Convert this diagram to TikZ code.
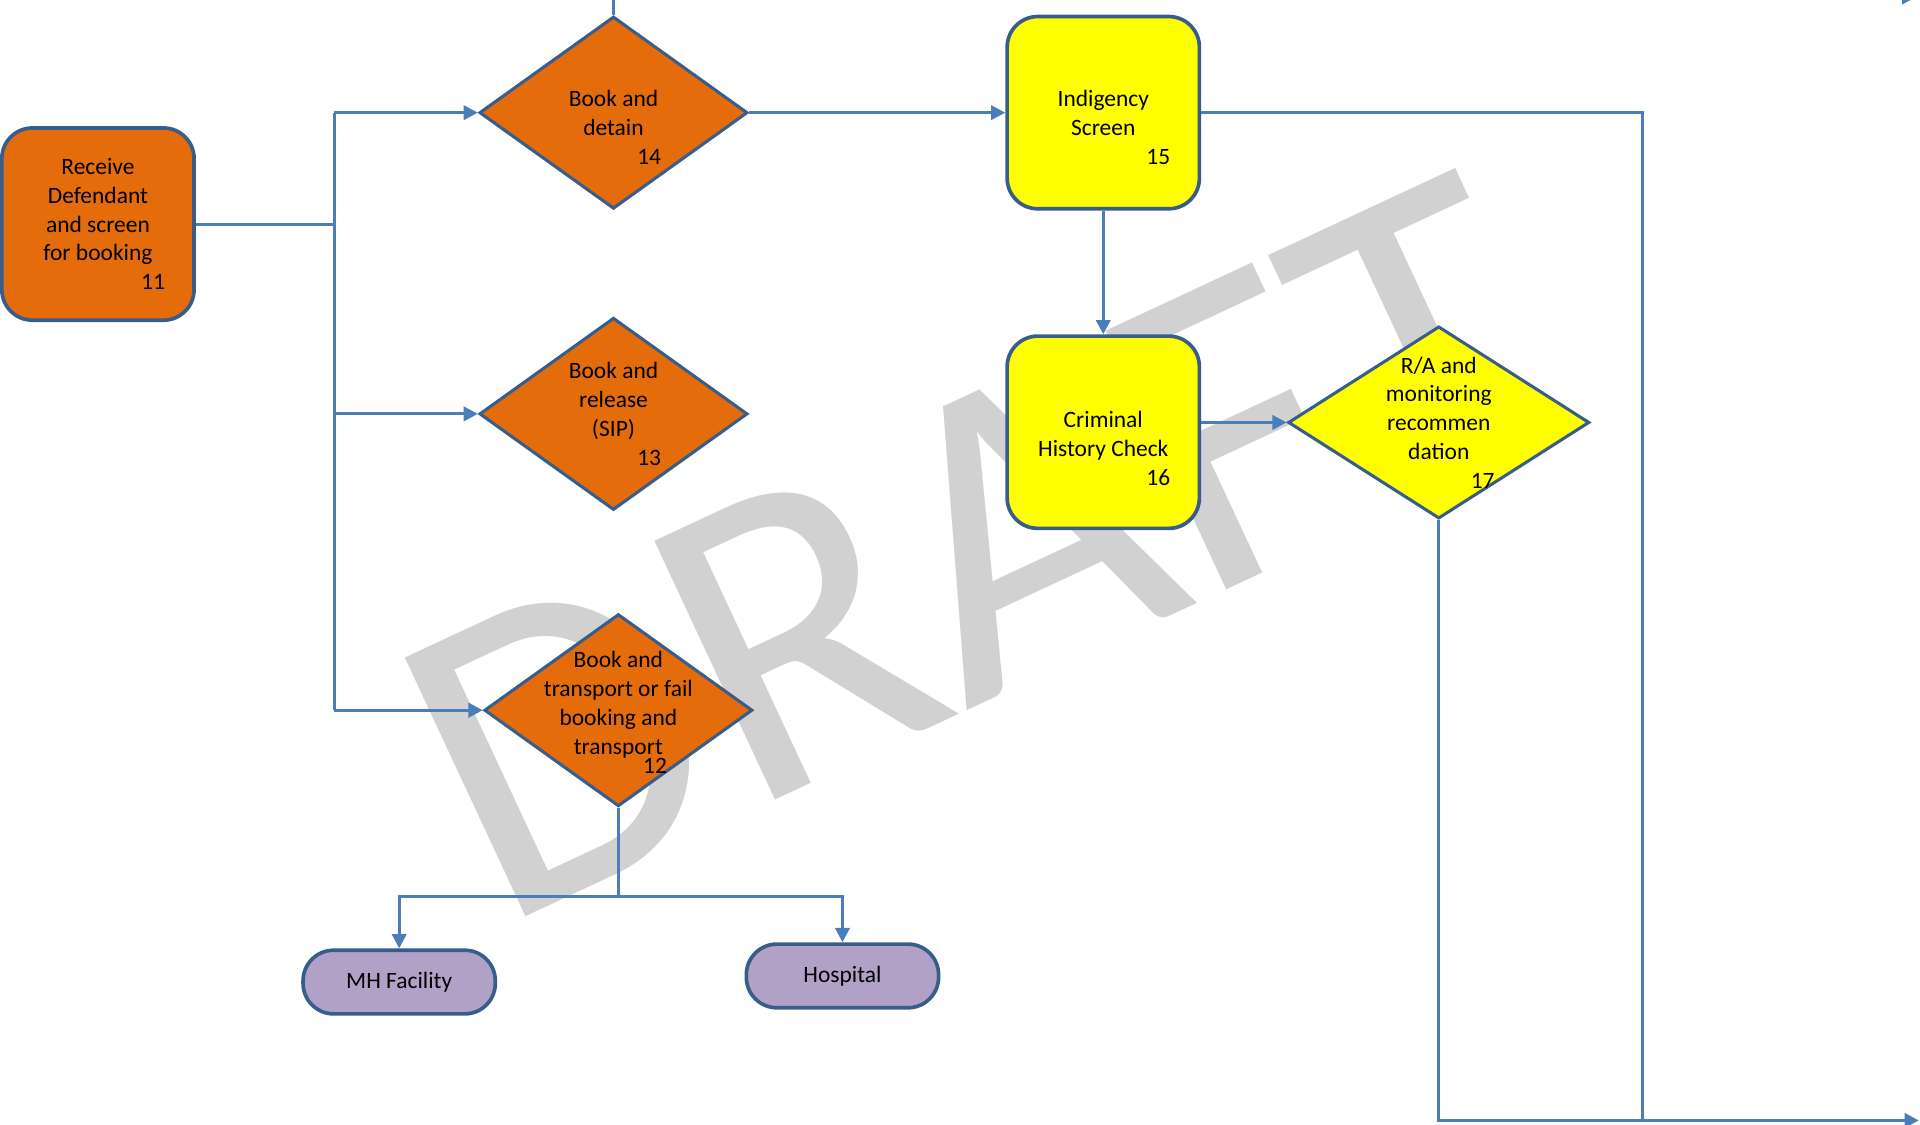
\documentclass[tikz,border=0pt]{standalone}
\usepackage{fontspec}
\setmainfont{Carlito}
\usetikzlibrary{shapes.geometric,arrows.meta}
\definecolor{boxorange}{RGB}{228,108,10}
\definecolor{boxyellow}{RGB}{255,255,0}
\definecolor{boxlilac}{RGB}{178,161,199}
\definecolor{boxedge}{RGB}{56,93,138}
\definecolor{linkblue}{RGB}{74,126,187}
\tikzset{
  proc/.style={rectangle, rounded corners=15pt, draw=boxedge, line width=1.8pt,
    minimum width=94.2pt, minimum height=94.2pt, inner sep=0pt},
  dec/.style={diamond, draw=boxedge, line width=1.5pt,
    minimum width=131.4pt, minimum height=94.2pt, inner sep=0pt},
  term/.style={rectangle, rounded corners=15pt, draw=boxedge, line width=1.8pt,
    fill=boxlilac, minimum width=94.2pt, minimum height=31.2pt, inner sep=0pt},
  txt/.style={align=center, font=\fontsize{11.5}{14.1}\selectfont, inner sep=0pt},
  link/.style={draw=linkblue, line width=1.5pt},
  arr/.style={link, -{Triangle[length=7pt,width=7pt]}}
}
\begin{document}
\begin{tikzpicture}[x=0.6pt, y=-0.6pt]
\useasboundingbox (0,0) rectangle (1568,918);
%% watermark
\node[rotate=25, text=gray!36, inner sep=0pt, font=\fontsize{218}{218}\selectfont] (draft) at (800,447) {DRAFT};
%% booking
\node[proc, fill=boxorange] (n11) at (80,183) {};
\node[txt] (t11) at (n11) {Receive\\Defendant\\and screen\\for booking\\\hspace*{54pt}11};
\node[dec, fill=boxorange] (d14) at (501,92) {};
\node[txt] (t14) at ([yshift=-7.2pt]d14.center) {Book and\\detain\\\hspace*{35pt}14};
\node[dec, fill=boxorange] (d13) at (501,338) {};
\node[txt] (t13) at (d13) {Book and\\release\\(SIP)\\\hspace*{35pt}13};
\node[dec, fill=boxorange] (d12) at (505,580) {};
\node[txt] (t12) at ([yshift=-1.2pt]d12.center) {Book and\\transport or fail\\booking and\\transport\\[-4.5pt]\hspace*{36pt}12};
\node[term, txt] (mh) at (326,802) {MH Facility};
\node[term, txt] (hosp) at (688,797) {Hospital};
%% screening
\node[proc, fill=boxyellow] (b15) at (901,92) {};
\node[txt] (t15) at ([yshift=-7.2pt]b15.center) {Indigency\\Screen\\\hspace*{54pt}15};
\node[proc, fill=boxyellow] (b16) at (901,353) {};
\node[txt] (t16) at ([yshift=-7.8pt]b16.center) {Criminal\\History Check\\\hspace*{54pt}16};
\node[dec, fill=boxyellow, minimum width=147.6pt] (d17) at (1175,345) {};
\node[txt] (t17) at (d17) {R/A and\\monitoring\\recommen\\dation\\\hspace*{43pt}17};
%% connectors
\coordinate (split) at (273,183);
\coordinate (top14) at (501,-5);
\coordinate (fork) at (505,732);
\coordinate (rail) at (1341,915);
\coordinate (exit) at (1567,915);
\coordinate (up1) at (1480,-2.5);
\coordinate (up2) at (1565,-2.5);
\draw[link] (n11.east) -- (split);
\draw[link] (split |- d14.west) -- (split |- d12.west);
\draw[arr] (split |- d14.west) -- (d14.west);
\draw[arr] (split |- d13.west) -- (d13.west);
\draw[arr] (split |- d12.west) -- (d12.west);
\draw[link] (d14.north) -- (top14);
\draw[link] (d12.south) -- (fork);
\draw[arr] (fork) -| (mh.north);
\draw[arr] (fork) -| (hosp.north);
\draw[arr] (d14.east) -- (b15.west);
\draw[arr] (b15.south) -- (b16.north);
\draw[arr] (b16.east |- d17.west) -- (d17.west);
\draw[link] (b15.east) -| (rail);
\draw[link] (d17.south) |- (rail);
\draw[arr] (rail) -- (exit);
\draw[arr] (up1) -- (up2);
\end{tikzpicture}
\end{document}
